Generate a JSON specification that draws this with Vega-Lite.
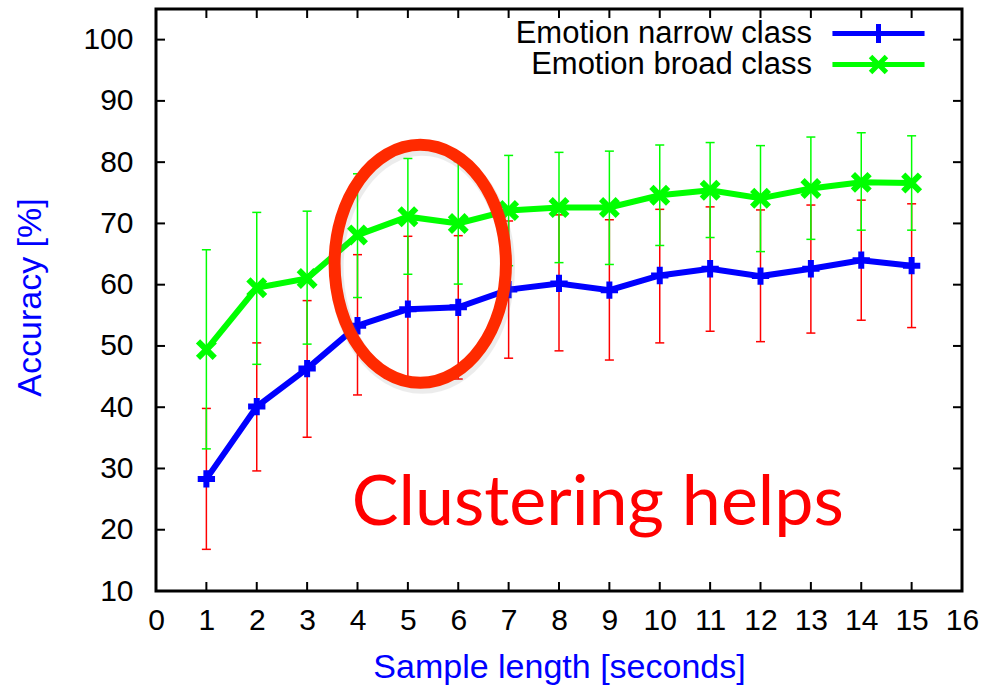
{
  "$schema": "https://vega.github.io/schema/vega-lite/v6.json",
  "width": 806,
  "height": 582,
  "autosize": {"type": "none"},
  "padding": {"left": 156, "top": 9, "right": 29, "bottom": 97},
  "background": "white",
  "datasets": {
    "main": [
      {"x": 1, "series": "Emotion narrow class", "y": 28.3, "lo": 16.8, "hi": 39.8},
      {"x": 2, "series": "Emotion narrow class", "y": 40.1, "lo": 29.6, "hi": 50.5},
      {"x": 3, "series": "Emotion narrow class", "y": 46.3, "lo": 35.1, "hi": 57.4},
      {"x": 4, "series": "Emotion narrow class", "y": 53.3, "lo": 42.0, "hi": 64.9},
      {"x": 5, "series": "Emotion narrow class", "y": 56.0, "lo": 44.5, "hi": 67.9},
      {"x": 6, "series": "Emotion narrow class", "y": 56.3, "lo": 44.6, "hi": 68.0},
      {"x": 7, "series": "Emotion narrow class", "y": 59.2, "lo": 48.0, "hi": 70.4},
      {"x": 8, "series": "Emotion narrow class", "y": 60.2, "lo": 49.2, "hi": 71.4},
      {"x": 9, "series": "Emotion narrow class", "y": 59.1, "lo": 47.7, "hi": 70.6},
      {"x": 10, "series": "Emotion narrow class", "y": 61.5, "lo": 50.5, "hi": 72.3},
      {"x": 11, "series": "Emotion narrow class", "y": 62.6, "lo": 52.4, "hi": 72.7},
      {"x": 12, "series": "Emotion narrow class", "y": 61.4, "lo": 50.7, "hi": 72.2},
      {"x": 13, "series": "Emotion narrow class", "y": 62.6, "lo": 52.1, "hi": 73.0},
      {"x": 14, "series": "Emotion narrow class", "y": 64.0, "lo": 54.2, "hi": 73.8},
      {"x": 15, "series": "Emotion narrow class", "y": 63.1, "lo": 53.0, "hi": 73.2},
      {"x": 1, "series": "Emotion broad class", "y": 49.4, "lo": 33.2, "hi": 65.7},
      {"x": 2, "series": "Emotion broad class", "y": 59.5, "lo": 47.0, "hi": 71.8},
      {"x": 3, "series": "Emotion broad class", "y": 61.0, "lo": 50.3, "hi": 72.0},
      {"x": 4, "series": "Emotion broad class", "y": 68.1, "lo": 57.9, "hi": 78.1},
      {"x": 5, "series": "Emotion broad class", "y": 71.1, "lo": 61.7, "hi": 80.6},
      {"x": 6, "series": "Emotion broad class", "y": 70.0, "lo": 60.1, "hi": 80.1},
      {"x": 7, "series": "Emotion broad class", "y": 72.1, "lo": 63.1, "hi": 81.1},
      {"x": 8, "series": "Emotion broad class", "y": 72.6, "lo": 63.6, "hi": 81.6},
      {"x": 9, "series": "Emotion broad class", "y": 72.6, "lo": 63.3, "hi": 81.8},
      {"x": 10, "series": "Emotion broad class", "y": 74.6, "lo": 66.4, "hi": 82.8},
      {"x": 11, "series": "Emotion broad class", "y": 75.4, "lo": 67.7, "hi": 83.2},
      {"x": 12, "series": "Emotion broad class", "y": 74.1, "lo": 65.4, "hi": 82.7},
      {"x": 13, "series": "Emotion broad class", "y": 75.7, "lo": 67.4, "hi": 84.1},
      {"x": 14, "series": "Emotion broad class", "y": 76.7, "lo": 68.9, "hi": 84.8},
      {"x": 15, "series": "Emotion broad class", "y": 76.6, "lo": 68.9, "hi": 84.3}
    ],
    "xticks": [{"v": 0}, {"v": 1}, {"v": 2}, {"v": 3}, {"v": 4}, {"v": 5}, {"v": 6}, {"v": 7}, {"v": 8}, {"v": 9}, {"v": 10}, {"v": 11}, {"v": 12}, {"v": 13}, {"v": 14}, {"v": 15}, {"v": 16}],
    "yticks": [{"v": 10}, {"v": 20}, {"v": 30}, {"v": 40}, {"v": 50}, {"v": 60}, {"v": 70}, {"v": 80}, {"v": 90}, {"v": 100}],
    "ellipse": [{"x": 5.246, "y": 63.4}],
    "note": [{"x": 8.77, "y": 20.8, "label": "Clustering helps"}]
  },
  "layer": [
    {
      "data": {"name": "main"},
      "transform": [{"filter": "datum.series === 'Emotion narrow class'"}],
      "mark": {"type": "rule", "color": "#ff0000", "strokeWidth": 1.5},
      "encoding": {
        "x": {"field": "x", "type": "quantitative",
              "scale": {"domain": [0, 16], "nice": false, "zero": false},
              "axis": {"orient": "bottom", "values": [0,1,2,3,4,5,6,7,8,9,10,11,12,13,14,15,16],
                       "labelPadding": 14, "title": "Sample length [seconds]", "titleY": 86, "titleBaseline": "alphabetic", "labelFlush": false}},
        "y": {"field": "lo", "type": "quantitative",
              "scale": {"domain": [10, 105], "nice": false, "zero": false},
              "axis": {"orient": "left", "values": [10,20,30,40,50,60,70,80,90,100],
                       "labelPadding": 23, "title": "Accuracy [%]", "titleX": -116, "titleY": 288,
                       "titleBaseline": "alphabetic", "titleAngle": -90, "titleAlign": "center"}},
        "y2": {"field": "hi"}
      }
    },
    {
      "data": {"name": "xticks"},
      "layer": [
        {"mark": {"type": "tick", "orient": "vertical", "color": "#000000", "size": 18, "thickness": 2, "opacity": 1, "clip": true},
         "encoding": {"x": {"field": "v", "type": "quantitative"},
                      "y": {"datum": 10, "type": "quantitative"}}},
        {"mark": {"type": "tick", "orient": "vertical", "color": "#000000", "size": 18, "thickness": 2, "opacity": 1, "clip": true},
         "encoding": {"x": {"field": "v", "type": "quantitative"},
                      "y": {"datum": 105, "type": "quantitative"}}}
      ]
    },
    {
      "data": {"name": "yticks"},
      "layer": [
        {"mark": {"type": "tick", "orient": "horizontal", "color": "#000000", "size": 18, "thickness": 2, "opacity": 1, "clip": true},
         "encoding": {"y": {"field": "v", "type": "quantitative"},
                      "x": {"datum": 0, "type": "quantitative"}}},
        {"mark": {"type": "tick", "orient": "horizontal", "color": "#000000", "size": 18, "thickness": 2, "opacity": 1, "clip": true},
         "encoding": {"y": {"field": "v", "type": "quantitative"},
                      "x": {"datum": 16, "type": "quantitative"}}}
      ]
    },
    {
      "data": {"name": "main"},
      "transform": [{"filter": "datum.series === 'Emotion narrow class'"}],
      "layer": [
        {"mark": {"type": "tick", "orient": "horizontal", "color": "#ff0000", "size": 9, "thickness": 1.5, "opacity": 1},
         "encoding": {"x": {"field": "x", "type": "quantitative"},
                      "y": {"field": "lo", "type": "quantitative"}}},
        {"mark": {"type": "tick", "orient": "horizontal", "color": "#ff0000", "size": 9, "thickness": 1.5, "opacity": 1},
         "encoding": {"x": {"field": "x", "type": "quantitative"},
                      "y": {"field": "hi", "type": "quantitative"}}},
        {"mark": {"type": "line", "strokeWidth": 6, "color": "#0000ff"},
         "encoding": {"x": {"field": "x", "type": "quantitative"},
                      "y": {"field": "y", "type": "quantitative"}}}
      ]
    },
    {
      "data": {"name": "main"},
      "transform": [{"filter": "datum.series === 'Emotion broad class'"}],
      "layer": [
        {"mark": {"type": "rule", "color": "#00ff00", "strokeWidth": 1.5},
         "encoding": {"x": {"field": "x", "type": "quantitative"},
                      "y": {"field": "lo", "type": "quantitative"}, "y2": {"field": "hi"}}},
        {"mark": {"type": "tick", "orient": "horizontal", "color": "#00ff00", "size": 9, "thickness": 1.5, "opacity": 1},
         "encoding": {"x": {"field": "x", "type": "quantitative"},
                      "y": {"field": "lo", "type": "quantitative"}}},
        {"mark": {"type": "tick", "orient": "horizontal", "color": "#00ff00", "size": 9, "thickness": 1.5, "opacity": 1},
         "encoding": {"x": {"field": "x", "type": "quantitative"},
                      "y": {"field": "hi", "type": "quantitative"}}},
        {"mark": {"type": "line", "strokeWidth": 6, "color": "#00ff00"},
         "encoding": {"x": {"field": "x", "type": "quantitative"},
                      "y": {"field": "y", "type": "quantitative"}}}
      ]
    },
    {
      "data": {"name": "main"},
      "transform": [{"filter": "datum.series === 'Emotion narrow class'"}],
      "mark": {"type": "point", "filled": false, "shape": "M -1 0 L 1 0 M 0 -1 L 0 1", "strokeWidth": 6, "size": 300, "opacity": 1},
      "encoding": {
        "x": {"field": "x", "type": "quantitative"},
        "y": {"field": "y", "type": "quantitative"},
        "stroke": {"field": "series", "type": "nominal",
                   "scale": {"domain": ["Emotion narrow class"], "range": ["#0000ff"]},
                   "legend": {"symbolType": "M -3.07 0 L 3.07 0 M 0 -0.63 L 0 0.63", "symbolSize": 900, "symbolStrokeWidth": 5,
                              "legendX": 705, "legendY": 7}}
      }
    },
    {
      "data": {"name": "main"},
      "transform": [{"filter": "datum.series === 'Emotion broad class'"}],
      "mark": {"type": "point", "filled": false, "shape": "M -1 -1 L 1 1 M -1 1 L 1 -1", "strokeWidth": 6, "size": 280, "opacity": 1},
      "encoding": {
        "x": {"field": "x", "type": "quantitative"},
        "y": {"field": "y", "type": "quantitative"},
        "color": {"field": "series", "type": "nominal",
                  "scale": {"domain": ["Emotion broad class"], "range": ["#00ff00"]},
                  "legend": {"symbolType": "M -3.07 0 L 3.07 0 M -0.53 -0.53 L 0.53 0.53 M -0.53 0.53 L 0.53 -0.53", "symbolSize": 900, "symbolStrokeWidth": 5,
                             "legendX": 705, "legendY": 38}}
      }
    },
    {
      "data": {"name": "ellipse"},
      "layer": [
        {"mark": {"type": "point", "filled": false, "shape": "M 0.72 0 C 0.72 0.5523 0.3977 1 0 1 C -0.3977 1 -0.72 0.5523 -0.72 0 C -0.72 -0.5523 -0.3977 -1 0 -1 C 0.3977 -1 0.72 -0.5523 0.72 0 Z",
                  "size": 56644, "stroke": "#888888", "strokeWidth": 14, "opacity": 0.15, "xOffset": 2, "yOffset": 4},
         "encoding": {"x": {"field": "x", "type": "quantitative"},
                      "y": {"field": "y", "type": "quantitative"}}},
        {"mark": {"type": "point", "filled": false, "shape": "M 0.72 0 C 0.72 0.5523 0.3977 1 0 1 C -0.3977 1 -0.72 0.5523 -0.72 0 C -0.72 -0.5523 -0.3977 -1 0 -1 C 0.3977 -1 0.72 -0.5523 0.72 0 Z",
                  "size": 56644, "stroke": "#ff2a00", "strokeWidth": 12, "opacity": 1},
         "encoding": {"x": {"field": "x", "type": "quantitative"},
                      "y": {"field": "y", "type": "quantitative"}}}
      ]
    },
    {
      "data": {"name": "note"},
      "mark": {"type": "text", "font": "Lato", "fontSize": 70, "color": "#ff0000", "align": "center", "baseline": "alphabetic"},
      "encoding": {
        "x": {"field": "x", "type": "quantitative"},
        "y": {"field": "y", "type": "quantitative"},
        "text": {"field": "label"}
      }
    }
  ],
  "config": {
    "view": {"stroke": "#000000", "strokeWidth": 3},
    "axis": {
      "grid": false, "domain": false, "ticks": false,
      "labelFont": "Liberation Sans", "labelFontSize": 30, "labelColor": "#000000",
      "titleFont": "Liberation Sans", "titleFontSize": 34, "titleColor": "#0000ff", "titleFontWeight": "normal"
    },
    "legend": {
      "orient": "none", "title": null, "padding": 0, "rowPadding": 0,
      "labelFont": "Liberation Sans", "labelFontSize": 31, "labelColor": "#000000", "labelAlign": "right", "labelOffset": -84,
      "labelLimit": 0,
      "symbolStrokeWidth": 5
    }
  }
}
